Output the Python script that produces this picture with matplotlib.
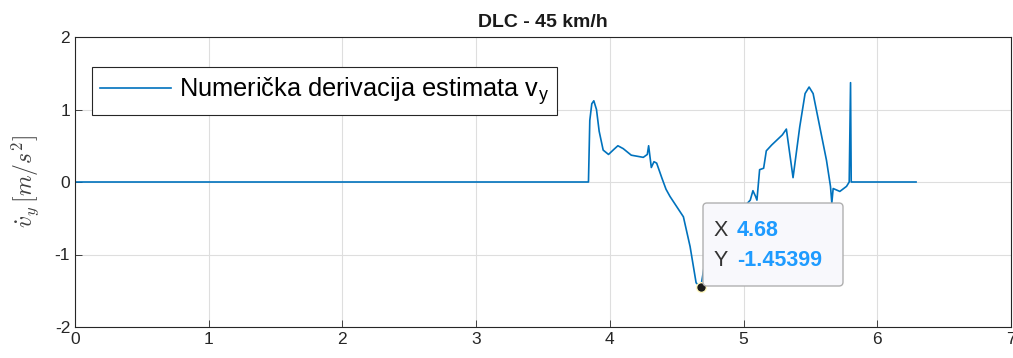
import matplotlib
matplotlib.use("Agg")
from matplotlib import pyplot as plt
from matplotlib.patches import FancyBboxPatch

# breakpoints of the estimated derivative
t = [0.0, 3.84, 3.85, 3.865, 3.88, 3.90, 3.92, 3.95, 3.99, 4.03, 4.06, 4.10, 4.16, 4.25,
     4.28, 4.29, 4.31, 4.33, 4.35, 4.39, 4.42, 4.45, 4.50, 4.55, 4.60, 4.645, 4.68,
     4.72, 4.80, 4.90, 5.00, 5.05, 5.07, 5.09, 5.10, 5.12, 5.15, 5.17, 5.21, 5.25, 5.29,
     5.32, 5.37, 5.42, 5.46, 5.49, 5.52, 5.57, 5.62, 5.65, 5.66, 5.67, 5.72, 5.77, 5.79,
     5.80, 5.805, 5.81, 6.29]
dvy = [0.0, 0.0, 0.85, 1.08, 1.12, 1.0, 0.7, 0.44, 0.38, 0.45, 0.50, 0.46, 0.37, 0.34,
       0.38, 0.50, 0.20, 0.28, 0.26, 0.05, -0.10, -0.20, -0.34, -0.48, -0.89, -1.39, -1.454,
       -1.0, -0.7, -0.5, -0.35, -0.25, -0.12, -0.20, -0.25, 0.17, 0.19, 0.43, 0.51, 0.58, 0.65,
       0.73, 0.06, 0.76, 1.22, 1.31, 1.22, 0.76, 0.30, -0.06, -0.29, -0.09, -0.13, -0.06, 0.0,
       1.37, 0.0, 0.0, 0.0]

tip_x = 4.68
tip_y = -1.45399

plt.rcParams['font.family'] = ['Liberation Sans', 'DejaVu Sans']
plt.rcParams['mathtext.fontset'] = 'cm'
plt.rcParams['axes.unicode_minus'] = False

fig = plt.figure(figsize=(10.13, 3.58), dpi=100)
ax = fig.add_axes([75 / 1013, 31 / 358, 936 / 1013, 290 / 358])

ax.plot(t, dvy, color='#0072BD', lw=1.2, label=r'Numerička derivacija estimata v$_\mathregular{y}$')

ax.set_xlim(0, 7)
ax.set_ylim(-2, 2)
ax.set_xticks(range(0, 8))
ax.set_yticks([-2, -1, 0, 1, 2])
ax.grid(True, color='#dedede', lw=0.8)
ax.set_axisbelow(True)
ax.tick_params(direction='in', labelsize=12.5, colors='#262626', length=5, width=0.6)
for s in ax.spines.values():
    s.set_color('#262626')
    s.set_linewidth(0.8)

ax.set_title('DLC - 45 km/h', fontsize=14, fontweight='bold', color='#1a1a1a', pad=7)
ax.set_ylabel(r'$\dot{v}_y\,[m/s^2]$', fontsize=17, color='#404040', labelpad=10)

leg = ax.legend(loc='upper left', bbox_to_anchor=(17 / 936, 1 - 30 / 290), fontsize=18.3,
                handlelength=2.8, handletextpad=0.3, borderpad=0.32, borderaxespad=0,
                fancybox=False, framealpha=1, edgecolor='#262626')
leg.get_frame().set_linewidth(0.8)

# datatip
box = FancyBboxPatch((703, 358 - 286), 140, 83, boxstyle='round,pad=0,rounding_size=4',
                     transform=None, facecolor='#f8f8fc', edgecolor='#b0b0b0', lw=1, zorder=5)
fig.patches.append(box)
ax.plot([tip_x], [tip_y], 'o', color='#1a1a1a', mec='#fff8c0', ms=7, zorder=6)
fig.text(714 / 1013, 1 - 231 / 358, 'X', fontsize=15.5, color='#333333', va='center', zorder=7)
fig.text(737 / 1013, 1 - 231 / 358, '%.2f' % tip_x, fontsize=15.5, color='#1e9bff',
         fontweight='bold', va='center', zorder=7)
fig.text(714 / 1013, 1 - 260 / 358, 'Y', fontsize=15.5, color='#333333', va='center', zorder=7)
fig.text(737 / 1013, 1 - 260 / 358, '%.5f' % tip_y, fontsize=15.5, color='#1e9bff',
         fontweight='bold', va='center', zorder=7)

plt.savefig('out.png', dpi=100)
